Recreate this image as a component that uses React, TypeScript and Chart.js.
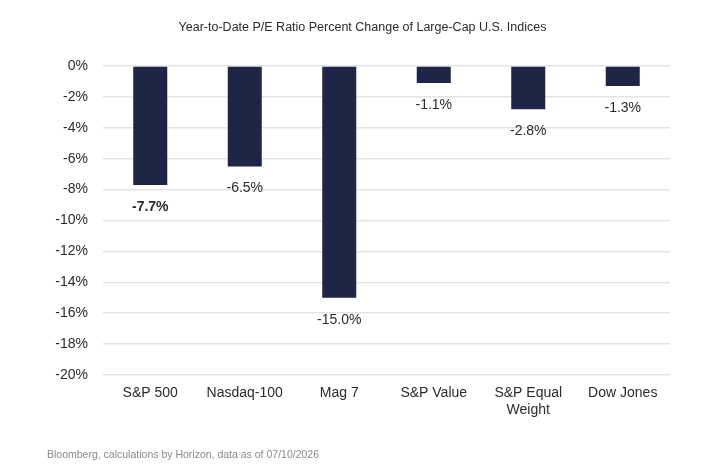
import React, { useEffect, useRef } from "react";
import { Chart, registerables } from "chart.js";

Chart.register(...registerables);

const categories: (string | string[])[] = ["S&P 500", "Nasdaq-100", "Mag 7", "S&P Value", ["S&P Equal", "Weight"], "Dow Jones"];
const values: number[] = [-7.7, -6.5, -15.0, -1.1, -2.8, -1.3];
const boldLabel: boolean[] = [true, false, false, false, false, false];
const yTicks = { min: -20, max: 0, step: 2 };
const titleText = "Year-to-Date P/E Ratio Percent Change of Large-Cap U.S. Indices";
const footerText = "Bloomberg, calculations by Horizon, data as of 07/10/2026";

const FONT = "'Liberation Sans', Arial, sans-serif";

const decorPlugin = {
  id: "decor",
  afterDatasetsDraw(chart: any) {
    const ctx = chart.ctx;
    const meta = chart.getDatasetMeta(0);
    ctx.save();
    ctx.fillStyle = "#2b2b2b";
    ctx.textAlign = "center";
    ctx.textBaseline = "middle";
    meta.data.forEach((bar: any, i: number) => {
      ctx.font = `${boldLabel[i] ? "bold " : ""}14px ${FONT}`;
      ctx.fillText(values[i].toFixed(1) + "%", bar.x, bar.y + 22);
    });
    ctx.font = `12.5px ${FONT}`;
    ctx.fillStyle = "#2b2b2b";
    ctx.fillText(titleText, chart.width / 2 + 6, 28);
    ctx.textAlign = "left";
    ctx.font = `10.5px ${FONT}`;
    ctx.fillStyle = "#8a8a8a";
    ctx.fillText(footerText, 47, 455);
    ctx.restore();
  },
};

export default function App() {
  const ref = useRef<HTMLCanvasElement>(null);
  useEffect(() => {
    document.body.style.margin = "0";
    const chart = new Chart(ref.current!, {
      type: "bar",
      data: {
        labels: categories,
        datasets: [
          {
            data: values,
            backgroundColor: "#1f2546",
            categoryPercentage: 1,
            barPercentage: 0.36,
          },
        ],
      },
      plugins: [decorPlugin],
      options: {
        responsive: false,
        animation: false,
        layout: { padding: { top: 66, right: 43, bottom: 40, left: 0 } },
        plugins: { legend: { display: false }, tooltip: { enabled: false } },
        scales: {
          y: {
            min: yTicks.min,
            max: yTicks.max,
            afterFit: (s: any) => { s.width = 103; },
            ticks: {
              stepSize: yTicks.step,
              padding: 15,
              color: "#2b2b2b",
              font: { family: FONT, size: 14 },
              callback: (v: any) => `${v}%`,
            },
            grid: { color: "#e4e4e4", drawTicks: false, lineWidth: 1.5 },
            border: { display: false },
          },
          x: {
            afterFit: (s: any) => { s.height = 60; },
            ticks: {
              padding: 10,
              color: "#2b2b2b",
              font: { family: FONT, size: 14 },
              maxRotation: 0,
            },
            grid: { display: false, drawTicks: false },
            border: { display: false },
          },
        },
      },
    });
    return () => chart.destroy();
  }, []);
  return (
    <div style={{ width: 713, height: 475, background: "#fff" }}>
      <canvas ref={ref} width={713} height={475} />
    </div>
  );
}
